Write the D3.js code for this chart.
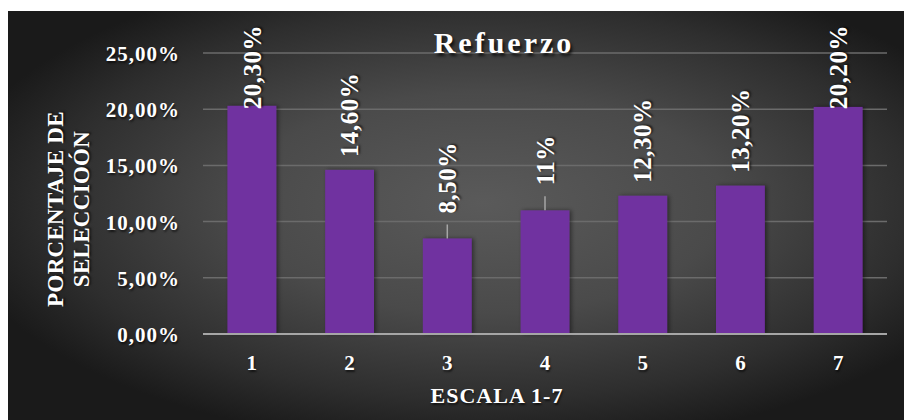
<!DOCTYPE html>
<style>
  body { margin: 0; background: white; }
  svg { display: block; }
  text { font-family: 'Liberation Serif', 'Times New Roman', serif; font-weight: bold; fill: white; }
  .grid line { stroke: #6b6b6b; stroke-width: 1.5; }
  .bar { fill: #7030a0; }
  .shadow { text-shadow: 1px 2px 2px rgba(0,0,0,0.6); }
</style>
<body>
</body>
<script src="https://cdn.jsdelivr.net/npm/d3@7"></script>
<script>
  const categories = ['1', '2', '3', '4', '5', '6', '7'];
  const values = [0.203, 0.146, 0.085, 0.11, 0.123, 0.132, 0.202];
  const valueLabels = ['20,30%', '14,60%', '8,50%', '11%', '12,30%', '13,20%', '20,20%'];
  const yTicks = [0, 0.05, 0.10, 0.15, 0.20, 0.25];
  const title = 'Refuerzo';
  const xTitle = 'ESCALA 1-7';
  const yTitle = ['PORCENTAJE DE', 'SELECCIOÓN'];

  // labels that Excel pushed up with a leader line
  const leaders = new Set(['3', '4']);

  const W = 904, H = 420;
  const area = {x: 8, y: 11, w: W - 8, h: H - 11};
  const l = 203, r = 887, t = 53, b = 334;

  const es = d3.formatLocale({decimal: ',', thousands: '.', grouping: [3], currency: ['', '€']});
  const fmt = es.format('.2%');

  const svg = d3.select('body').append('svg')
    .attr('width', W)
    .attr('height', H);

  const defs = svg.append('defs');
  const grad = defs.append('radialGradient').attr('id', 'bg')
    .attr('cx', 0.53).attr('cy', 0.47).attr('r', 0.6);
  grad.append('stop').attr('offset', '0%').attr('stop-color', '#5a5a5a');
  grad.append('stop').attr('offset', '45%').attr('stop-color', '#4a4a4a');
  grad.append('stop').attr('offset', '80%').attr('stop-color', '#2e2e2e');
  grad.append('stop').attr('offset', '100%').attr('stop-color', '#1a1a1a');

  const shadow = defs.append('filter').attr('id', 'barShadow')
    .attr('x', '-20%').attr('y', '-5%').attr('width', '140%').attr('height', '110%');
  shadow.append('feDropShadow')
    .attr('dx', 2).attr('dy', 0).attr('stdDeviation', 2)
    .attr('flood-color', '#000').attr('flood-opacity', 0.45);

  svg.append('rect')
    .attr('x', area.x).attr('y', area.y)
    .attr('width', area.w).attr('height', area.h)
    .attr('fill', 'url(#bg)');

  const x = d3.scaleBand().domain(categories).range([l, r]).paddingInner(0.5).paddingOuter(0.25);
  const y = d3.scaleLinear().domain([0, 0.25]).range([b, t]);

  // gridlines
  svg.append('g').attr('class', 'grid')
    .selectAll('line')
    .data(yTicks.filter(d => d > 0))
    .join('line')
    .attr('x1', l).attr('x2', r)
    .attr('y1', d => y(d)).attr('y2', d => y(d));

  // y tick labels
  svg.append('g')
    .selectAll('text')
    .data(yTicks)
    .join('text')
    .attr('class', 'shadow')
    .attr('x', 180)
    .attr('y', d => y(d))
    .attr('dy', '0.38em')
    .attr('text-anchor', 'end')
    .style('font-size', '21px')
    .style('letter-spacing', '1px')
    .text(d => fmt(d));

  // bars
  svg.append('g')
    .selectAll('rect')
    .data(values)
    .join('rect')
    .attr('class', 'bar')
    .attr('filter', 'url(#barShadow)')
    .attr('x', (d, i) => x(categories[i]))
    .attr('width', x.bandwidth())
    .attr('y', d => y(d))
    .attr('height', d => y(0) - y(d));

  // axis line
  svg.append('line')
    .attr('x1', l).attr('x2', r)
    .attr('y1', y(0)).attr('y2', y(0))
    .attr('stroke', '#a6a6a6').attr('stroke-width', 2);

  // x tick labels
  svg.append('g')
    .selectAll('text')
    .data(categories)
    .join('text')
    .attr('class', 'shadow')
    .attr('x', d => x(d) + x.bandwidth() / 2)
    .attr('y', 370)
    .attr('text-anchor', 'middle')
    .style('font-size', '21px')
    .text(d => d);

  // value labels
  const labels = svg.append('g');
  values.forEach((v, i) => {
    const c = categories[i];
    const cx = x(c) + x.bandwidth() / 2;
    const top = y(v);
    const lead = leaders.has(c);
    let bottom = top - (lead ? 25 : 13);
    const txt = labels.append('text')
      .attr('class', 'shadow')
      .attr('dy', '0.35em')
      .style('font-size', '25px')
      .style('letter-spacing', '0.5px')
      .text(valueLabels[i]);
    const len = txt.node().getComputedTextLength();
    if (bottom - len < 25) bottom = 25 + len;
    txt.attr('transform', `translate(${cx},${bottom}) rotate(-90)`);
    if (lead) {
      labels.append('line')
        .attr('x1', cx).attr('x2', cx)
        .attr('y1', bottom + 11).attr('y2', top)
        .attr('stroke', '#a6a6a6').attr('stroke-width', 1.5);
    }
  });

  // title
  svg.append('text')
    .attr('x', 504).attr('y', 53)
    .attr('text-anchor', 'middle')
    .style('font-size', '30px')
    .style('letter-spacing', '3px')
    .style('text-shadow', '2px 3px 3px rgba(0,0,0,0.7)')
    .text(title);

  // x title
  svg.append('text')
    .attr('class', 'shadow')
    .attr('x', 497).attr('y', 403)
    .attr('text-anchor', 'middle')
    .style('font-size', '22px')
    .style('letter-spacing', '1px')
    .text(xTitle);

  // y title
  svg.append('g')
    .attr('transform', 'translate(55, 209) rotate(-90)')
    .selectAll('text')
    .data(yTitle)
    .join('text')
    .attr('class', 'shadow')
    .attr('x', 0)
    .attr('y', (d, i) => i * 26)
    .attr('dy', '0.35em')
    .attr('text-anchor', 'middle')
    .style('font-size', '23px')
    .style('letter-spacing', '0.3px')
    .text(d => d);
</script>
